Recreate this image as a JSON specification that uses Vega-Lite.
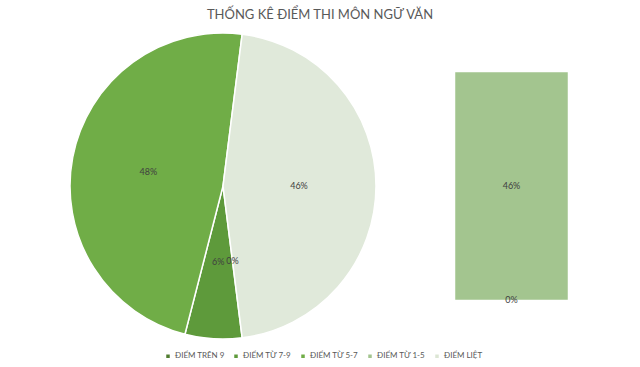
{
  "$schema": "https://vega.github.io/schema/vega-lite/v6.json",
  "width": 640,
  "height": 367,
  "autosize": {"type": "fit", "contains": "padding"},
  "padding": {"left": 0, "right": 0, "top": 9, "bottom": 0},
  "background": "white",
  "config": {"view": {"stroke": null}, "font": "Lato"},
  "title": {
    "text": "THỐNG KÊ ĐIỂM THI MÔN NGỮ VĂN",
    "anchor": "middle",
    "fontSize": 13,
    "fontWeight": "normal",
    "color": "#595959",
    "font": "Lato",
    "offset": 4
  },
  "datasets": {
    "pie": [
      {"cat": "ĐIỂM TRÊN 9", "value": 0.0, "ord": 1},
      {"cat": "ĐIỂM TỪ 7-9", "value": 0.06, "ord": 2},
      {"cat": "ĐIỂM TỪ 5-7", "value": 0.48, "ord": 3},
      {"cat": "KHÁC", "value": 0.46, "ord": 4}
    ],
    "bar": [
      {"cat": "ĐIỂM LIỆT", "value": 0.0, "ord": 1, "grp": "phụ"},
      {"cat": "ĐIỂM TỪ 1-5", "value": 0.46, "ord": 2, "grp": "phụ"}
    ]
  },
  "resolve": {"scale": {"y": "independent", "color": "shared"}},
  "layer": [
    {
      "mark": {"type": "rule", "x": 242, "y": 8, "x2": 455, "y2": 46, "color": "#D0D0D0", "strokeWidth": 1},
      "encoding": {}
    },
    {
      "mark": {"type": "rule", "x": 242, "y": 312, "x2": 455, "y2": 274, "color": "#D0D0D0", "strokeWidth": 1},
      "encoding": {}
    },
    {
      "data": {"name": "pie"},
      "mark": {"type": "arc", "x": 223, "y": 160, "outerRadius": 153, "stroke": "white", "strokeWidth": 1.5},
      "encoding": {
        "theta": {"field": "value", "type": "quantitative", "stack": true, "scale": {"domain": [0, 1], "range": [3.0159, 9.2991]}},
        "order": {"field": "ord", "type": "quantitative"},
        "color": {
          "condition": {"test": "datum.cat === 'KHÁC'", "value": "#E0E9DA"},
          "field": "cat",
          "type": "nominal",
          "scale": {
            "domain": ["ĐIỂM TRÊN 9", "ĐIỂM TỪ 7-9", "ĐIỂM TỪ 5-7", "ĐIỂM TỪ 1-5", "ĐIỂM LIỆT"],
            "range": ["#507D30", "#5E9A3B", "#70AD47", "#A3C58F", "#DCE6D4"]
          },
          "legend": {
            "title": null,
            "orient": "none",
            "direction": "horizontal",
            "legendX": 164,
            "legendY": 326,
            "symbolType": "square",
            "symbolSize": 25,
            "labelFontSize": 8,
            "labelColor": "#595959",
            "labelFont": "Lato",
            "columnPadding": 5,
            "symbolOffset": 0,
            "labelOffset": 3
          }
        }
      }
    },
    {
      "data": {"name": "pie"},
      "mark": {"type": "text", "x": 223, "y": 160, "radius": 76, "fontSize": 9, "color": "#404040", "font": "Lato"},
      "encoding": {
        "theta": {"field": "value", "type": "quantitative", "stack": true, "scale": {"domain": [0, 1], "range": [3.0159, 9.2991]}},
        "order": {"field": "ord", "type": "quantitative"},
        "text": {"field": "value", "type": "quantitative", "format": ".0%"}
      }
    },
    {
      "data": {"name": "bar"},
      "mark": {"type": "bar", "stroke": "white", "strokeWidth": 0.5},
      "encoding": {
        "x": {"field": "grp", "type": "nominal", "axis": null, "scale": {"range": [455, 568], "paddingInner": 0, "paddingOuter": 0}},
        "y": {"field": "value", "type": "quantitative", "stack": "zero", "axis": null, "scale": {"domain": [0, 0.46], "range": [274, 46]}},
        "order": {"field": "ord", "type": "quantitative"},
        "color": {"field": "cat", "type": "nominal"}
      }
    },
    {
      "data": {"name": "bar"},
      "mark": {"type": "text", "fontSize": 9, "color": "#404040", "font": "Lato"},
      "encoding": {
        "x": {"field": "grp", "type": "nominal", "axis": null, "scale": {"range": [455, 568], "paddingInner": 0, "paddingOuter": 0}},
        "y": {"field": "value", "type": "quantitative", "stack": null, "axis": null, "scale": {"domain": [0, 0.92], "range": [274, 46]}},
        "text": {"field": "value", "type": "quantitative", "format": ".0%"}
      }
    }
  ]
}
